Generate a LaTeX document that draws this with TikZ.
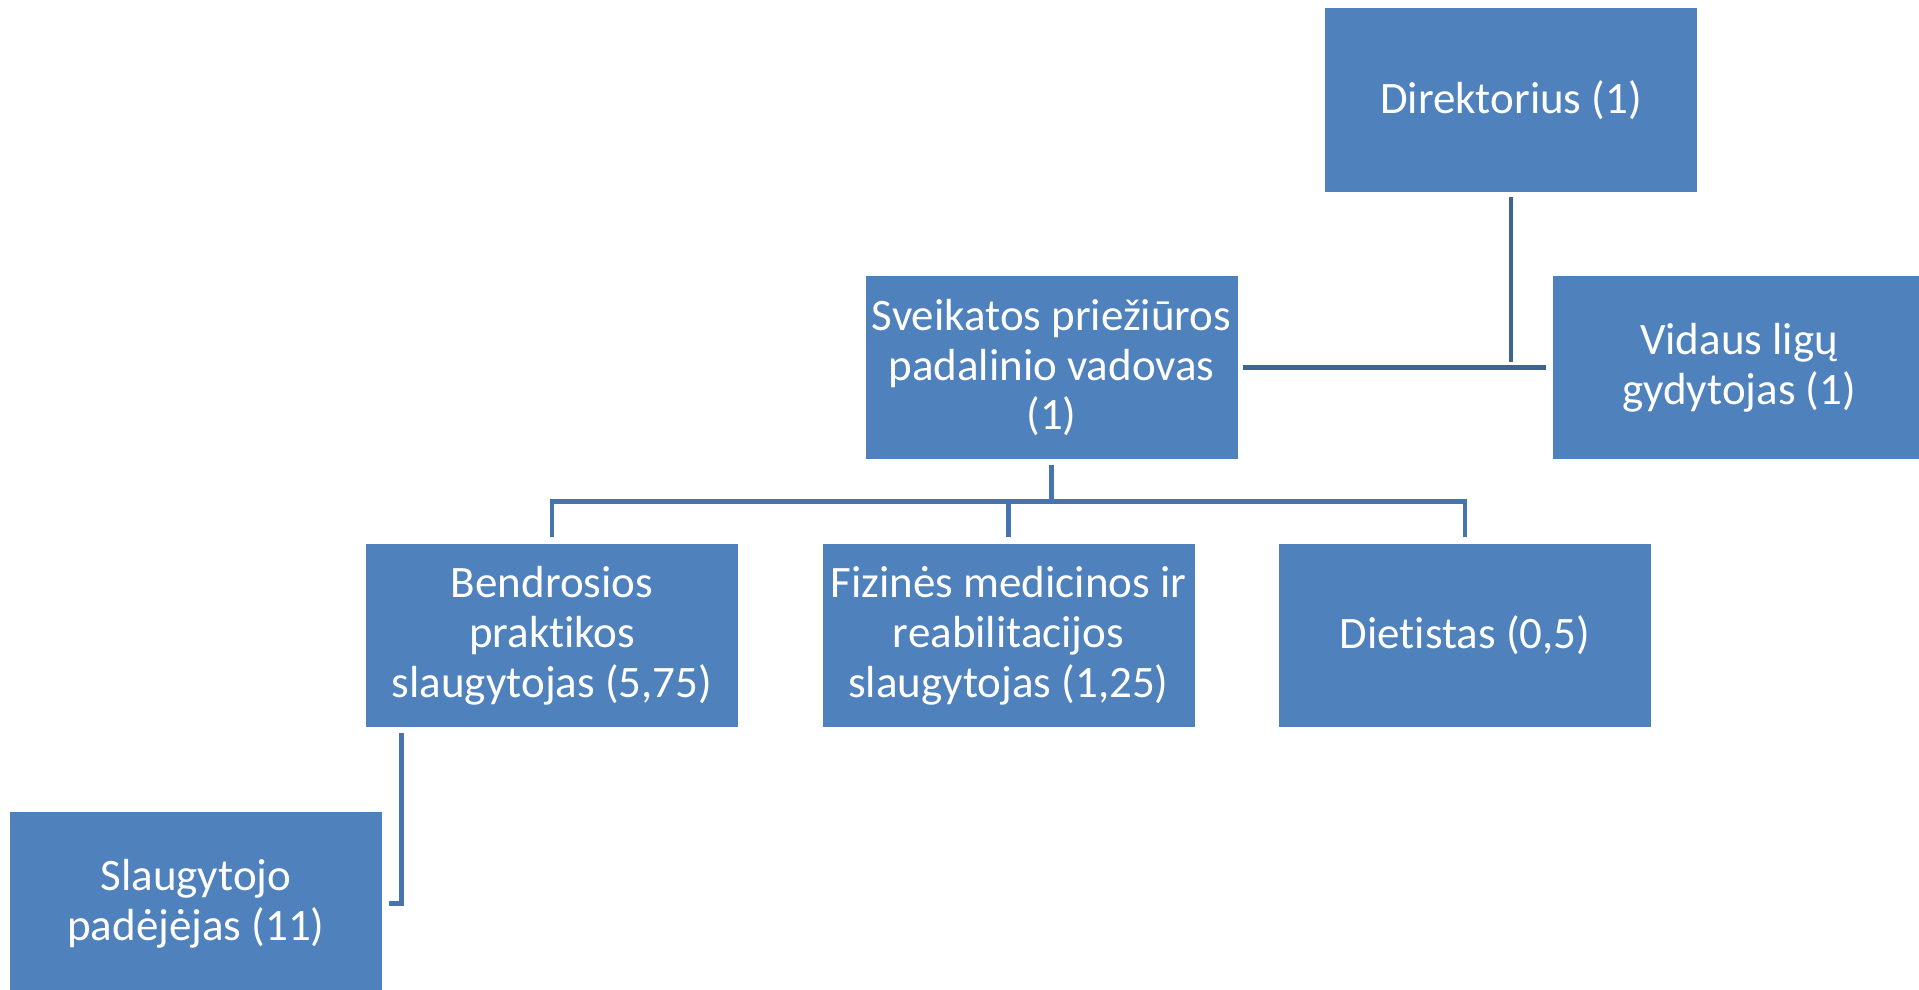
\documentclass[tikz,border=0pt]{standalone}
\usepackage{fontspec}
\setmainfont{Carlito}[Ligatures=CommonOff]
\usepackage{tikz}

\definecolor{boxblue}{HTML}{4F81BD}
\definecolor{topline}{HTML}{3D6594}
\definecolor{lowline}{HTML}{4674AF}

\tikzset{
	posbox/.style={rectangle,fill=boxblue,text=white,minimum width=3.72cm,minimum height=1.83cm,
		align=center,inner sep=1pt,font=\fontsize{12.8pt}{14.2pt}\selectfont},
	conn/.style={line width=0.045cm,shorten <=0.05cm,shorten >=0.06cm}
}

\begin{document}
\begin{tikzpicture}
		[auto=midway]
		\useasboundingbox (0,0) rectangle (19.19,-9.90);

		\node[posbox] (dir) at (15.11,-1.00) {Direktorius (1)};
		\node[posbox] (vid) at (17.39,-3.675) {Vidaus ligų\\gydytojas (1)};
		\node[posbox] (sv) at (10.515,-3.675) {Sveikatos priežiūros\\padalinio vadovas\\(1)};
		\node[posbox] (ben) at (5.52,-6.355) {Bendrosios\\praktikos\\slaugytojas (5,75)};
		\node[posbox] (fiz) at (10.085,-6.355) {Fizinės medicinos ir\\reabilitacijos\\slaugytojas (1,25)};
		\node[posbox] (die) at (14.65,-6.355) {Dietistas (0,5)};
		\node[posbox] (sla) at (1.96,-9.035) {Slaugytojo\\padėjėjas (11)};

		\draw[conn,topline] (dir.south) -- (dir.south |- sv.east);
		\draw[conn,topline] (sv.east) -- (vid.west);
		\draw[conn,lowline] (sv.south) -- ++(0,-0.42) -| (ben.north);
		\draw[conn,lowline] (sv.south) -- ++(0,-0.42) -| (fiz.north);
		\draw[conn,lowline] (sv.south) -- ++(0,-0.42) -| (die.north);
		\draw[conn,lowline] ([xshift=0.36cm]ben.south west) |- (sla.east);

	\end{tikzpicture}
\end{document}
